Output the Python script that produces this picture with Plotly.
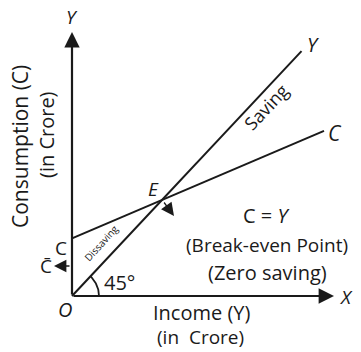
import numpy as np
import plotly.graph_objects as go

# ---- data ----
income_levels = [0, 100, 280]          # Y (crore)
consumption = [60, 100, 172]           # C = C̄ + bY
income_45 = [0, 255]                   # 45° line: C = Y
autonomous_consumption = 60            # C̄
break_even = (100, 100)                # E

# ---- pixel <-> data helpers (layout only) ----
W, H = 361, 352
X0, X1 = -80.0, 321.1
Y0, Y1 = -58.3, 308.3
SX = W / (X1 - X0)
SY = H / (Y1 - Y0)


def px(xp, yp):
    return X0 + xp / SX, Y1 - yp / SY


FONT = "Open Sans, Noto Sans, DejaVu Sans, sans-serif"
INK = "#1a1a1a"

fig = go.Figure()

# Consumption line
fig.add_trace(go.Scatter(x=income_levels, y=consumption, mode="lines",
                         line=dict(color=INK, width=2), hoverinfo="skip"))
# 45-degree line
fig.add_trace(go.Scatter(x=income_45, y=income_45, mode="lines",
                         line=dict(color=INK, width=2), hoverinfo="skip"))

# 45° arc around the origin
ang_end = np.degrees(np.arctan2(SY, SX))
theta = np.radians(np.linspace(0, ang_end, 30))
r_px = 27
fig.add_trace(go.Scatter(x=r_px / SX * np.cos(theta), y=r_px / SY * np.sin(theta),
                         mode="lines", line=dict(color=INK, width=1.8), hoverinfo="skip"))

ann = []
# axes with arrows
x_tip = px(334, 0)[0]
y_tip = px(0, 32)[1]
ann.append(dict(x=x_tip, y=0, ax=0, ay=0, xref="x", yref="y", axref="x", ayref="y",
                showarrow=True, arrowhead=2, arrowsize=1.4, arrowwidth=2.2, arrowcolor=INK, text=""))
ann.append(dict(x=0, y=y_tip, ax=0, ay=0, xref="x", yref="y", axref="x", ayref="y",
                showarrow=True, arrowhead=2, arrowsize=1.4, arrowwidth=2.2, arrowcolor=INK, text=""))

# arrow from E towards the label
tx, ty = px(174, 216)
ann.append(dict(x=tx, y=ty, ax=-11, ay=-15, xref="x", yref="y",
                showarrow=True, arrowhead=2, arrowsize=2.0, arrowwidth=1.3, arrowcolor=INK, text=""))
# C̄ arrow
cx, cy = px(54, 266)
ann.append(dict(x=cx, y=cy, ax=17, ay=0, xref="x", yref="y",
                showarrow=True, arrowhead=2, arrowsize=1.9, arrowwidth=1.3, arrowcolor=INK, text=""))


def label(text, xp, yp, size=16, angle=0, italic=False):
    x, y = px(xp, yp)
    if italic:
        text = "<i>" + text + "</i>"
    ann.append(dict(x=x, y=y, xref="x", yref="y", text=text, showarrow=False,
                    textangle=angle, font=dict(family=FONT, size=size, color=INK),
                    xanchor="center", yanchor="middle"))


label("Y", 72, 17, 19, italic=True)
label("X", 346, 297, 19, italic=True)
label("O", 65, 309, 20, italic=True)
label("Y", 313, 44, 20, italic=True)
label("C", 335, 133, 21, italic=True)
label("E", 153, 189, 19, italic=True)
label("C", 61, 248, 19)
label("C\u0304", 46, 266, 19)
label("45°", 119, 282, 20)
label("Saving", 266, 107, 18, angle=-46.8)
label("Dissaving", 101, 243, 10, angle=-48)
label("C = <i>Y</i>", 266, 215, 20)
label("(Break-even Point)", 267, 245, 19)
label("(Zero saving)", 267, 272, 20)
label("Income (Y)", 201, 312, 20)
label("(in\u00a0 Crore)", 200, 337, 19)
label("Consumption (C)", 20, 147, 21, angle=-90)
label("(in Crore)", 46, 135, 20, angle=-90)

fig.update_layout(
    width=W, height=H, margin=dict(l=0, r=0, t=0, b=0),
    paper_bgcolor="white", plot_bgcolor="white", showlegend=False,
    xaxis=dict(range=[X0, X1], visible=False, fixedrange=True),
    yaxis=dict(range=[Y0, Y1], visible=False, fixedrange=True),
    annotations=ann,
)

fig.write_html("out.html", config={"displayModeBar": False},
               post_script="document.body.style.margin='0';document.body.style.padding='0';")
